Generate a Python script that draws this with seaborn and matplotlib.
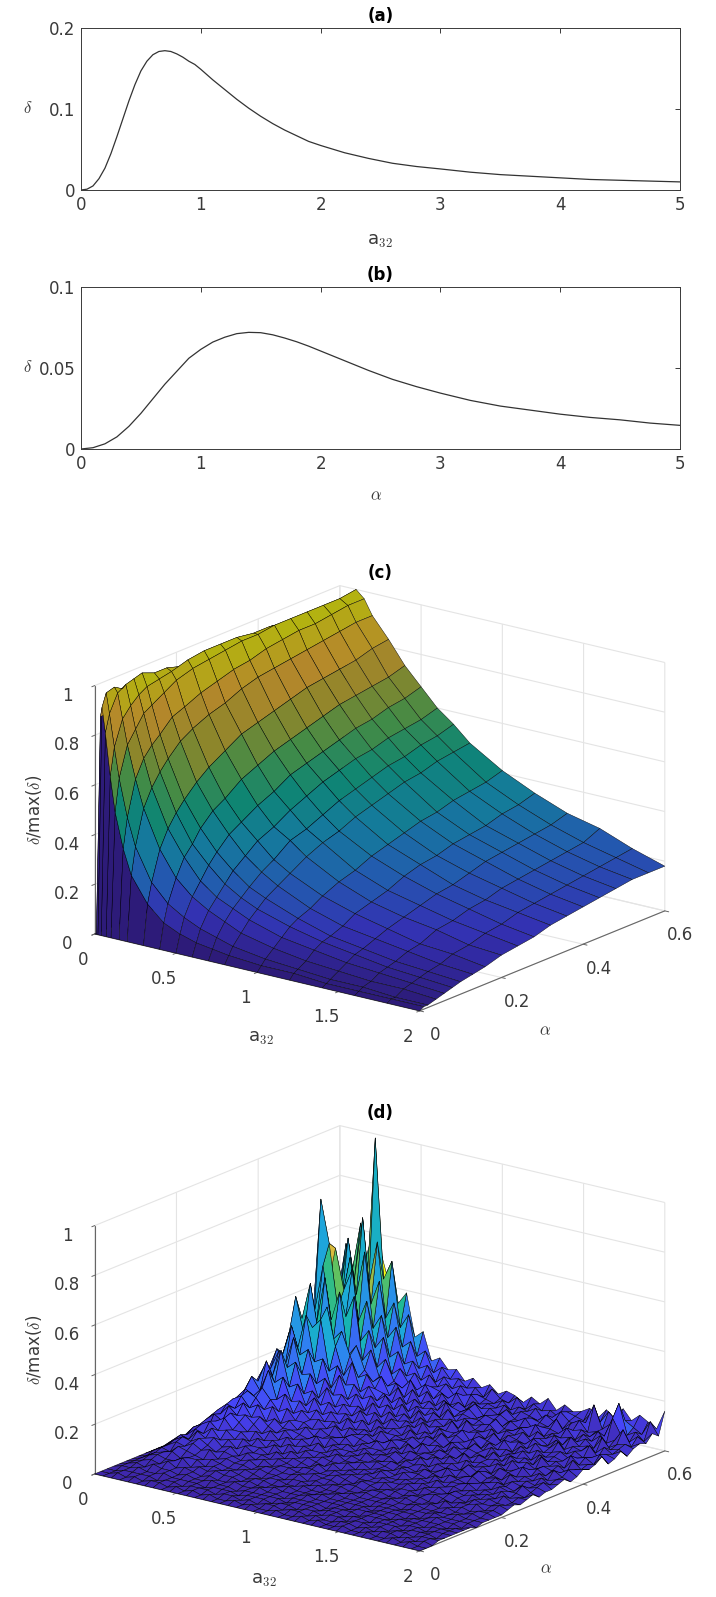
# Imports
import matplotlib
matplotlib.use('Agg')
import matplotlib.pyplot as plt
import seaborn as sns
import numpy as np

sns.set_style('white')
plt.rcParams['font.family'] = ['DejaVu Sans']
plt.rcParams['mathtext.fontset'] = 'cm'


# Data

## (a) delta vs a32
a_x = [0, .05, .1, .15, .2, .25, .3, .35, .4, .45, .5, .55, .6, .65, .7, .75, .8, .85, .9, .95, 1, 1.1, 1.2, 1.3, 1.4, 1.5,
       1.6, 1.7, 1.8, 1.9, 2, 2.2, 2.4, 2.6, 2.8, 3, 3.25, 3.5, 3.75, 4, 4.25, 4.5, 4.75, 5]
a_y = [0, .001, .005, .014, .027, .045, .066, .088, .110, .130, .147, .159, .167, .171, .172, .171, .168, .164, .159, .155, .149, .136, .124, .112, .101, .091,
       .082, .074, .067, .060, .055, .046, .039, .033, .029, .026, .022, .019, .017, .015, .013, .012, .011, .010]

## (b) delta vs alpha
b_x = [0, .1, .2, .3, .4, .5, .6, .7, .8, .9, 1, 1.1, 1.2, 1.3, 1.4, 1.5, 1.6, 1.7, 1.8, 1.9, 2, 2.2, 2.4, 2.6, 2.8, 3,
       3.25, 3.5, 3.75, 4, 4.25, 4.5, 4.75, 5]
b_y = [0, .0008, .0032, .0075, .014, .022, .031, .040, .048, .056, .0615, .066, .069, .0712, .072, .0718, .0705, .0685, .0662, .0635, .0605, .0545, .0485, .043, .0385, .0345,
       .030, .0265, .024, .0215, .0195, .018, .016, .0146]

## (c) smooth surface, rows are alpha, columns are a32
c_a32 = [0, .01, .02, .04, .07, .1, .15, .2, .3, .4, .5, .6, .7, .8, 1, 1.2, 1.4, 1.6, 1.8, 2]
c_alpha = [0, .01, .02, .04, .06, .08, .1, .13, .16, .2, .24, .28, .32, .36, .4, .44, .48, .52, .56, .6]
c_z = [
    [0, 0, 0, 0, 0, 0, 0, 0, 0, 0, 0, 0, 0, 0, 0, 0, 0, 0, 0, 0],
    [0, .87, .91, .81, .64, .50, .36, .26, .16, .10, .07, .05, .04, .03, .02, .02, .01, .01, .01, .01],
    [0, .87, .96, .88, .75, .63, .48, .37, .24, .17, .13, .10, .08, .06, .04, .03, .02, .02, .01, .01],
    [0, .80, .97, .95, .85, .75, .62, .51, .36, .26, .20, .16, .13, .10, .07, .05, .04, .03, .03, .02],
    [0, .74, .95, .97, .89, .80, .69, .58, .43, .33, .25, .20, .17, .14, .10, .08, .06, .05, .04, .03],
    [0, .69, .95, .98, .92, .85, .73, .63, .48, .37, .30, .24, .20, .17, .13, .10, .08, .06, .05, .04],
    [0, .65, .93, .99, .94, .87, .76, .67, .52, .42, .34, .28, .23, .20, .15, .11, .09, .07, .06, .05],
    [0, .56, .88, .97, .95, .90, .81, .72, .57, .47, .39, .32, .27, .23, .17, .13, .11, .09, .07, .06],
    [0, .50, .83, .97, .96, .93, .83, .75, .61, .50, .42, .36, .30, .26, .20, .16, .13, .10, .09, .07],
    [0, .42, .77, .95, .98, .95, .86, .78, .65, .55, .46, .39, .35, .30, .23, .18, .15, .13, .10, .09],
    [0, .36, .72, .94, .99, .96, .88, .80, .69, .58, .49, .43, .37, .33, .25, .20, .17, .14, .12, .10],
    [0, .32, .68, .93, .99, .97, .90, .83, .71, .61, .53, .46, .40, .35, .28, .23, .19, .16, .13, .11],
    [0, .29, .64, .92, .99, .98, .91, .85, .73, .63, .55, .49, .43, .38, .30, .25, .20, .17, .15, .13],
    [0, .25, .59, .89, .98, .98, .93, .86, .75, .65, .57, .51, .45, .40, .32, .26, .22, .19, .16, .14],
    [0, .21, .53, .87, .98, .99, .94, .87, .77, .67, .59, .53, .47, .42, .34, .28, .24, .20, .17, .15],
    [0, .18, .49, .84, .97, .99, .95, .88, .78, .69, .61, .54, .49, .44, .35, .29, .25, .21, .18, .16],
    [0, .16, .44, .79, .96, .99, .95, .89, .79, .70, .62, .56, .50, .45, .37, .30, .26, .22, .19, .17],
    [0, .14, .40, .75, .94, .99, .96, .90, .80, .71, .64, .57, .52, .47, .38, .32, .27, .23, .20, .18],
    [0, .11, .36, .72, .93, .99, .97, .91, .82, .72, .65, .58, .53, .48, .39, .33, .28, .24, .21, .18],
    [0, .10, .33, .70, .93, 1.0, .97, .91, .83, .74, .67, .60, .55, .49, .41, .35, .30, .27, .22, .18],
]

## (d) noisy surface in percent of the maximum, rows are alpha, columns are a32
d_a32_max = 2
d_alpha_max = .6
d_z = [
    [0]*40,
    [0,0,1,0,1,0,1,1,0,1,0,1,0,1,0,0,1,0,1,0,0,1,0,0,1,0,1,0,0,1,0,0,1,0,0,1,0,1,0,0],
    [0,0,1,1,1,1,0,1,1,0,1,1,1,0,1,1,0,1,0,1,1,0,1,1,0,1,0,0,1,1,0,1,0,1,1,0,1,0,1,0],
    [0,1,1,2,1,1,2,1,1,1,1,0,1,1,1,0,1,1,1,0,1,1,0,1,1,0,1,1,0,1,1,0,1,0,1,1,0,1,1,1],
    [0,1,2,1,3,2,2,1,2,1,1,2,1,1,0,1,1,1,1,1,0,1,1,1,0,1,1,0,1,1,0,1,1,1,0,1,1,1,0,1],
    [0,1,2,3,2,4,2,3,2,1,2,1,1,2,1,1,2,1,1,0,1,1,1,1,0,1,1,1,0,1,1,1,1,0,1,1,0,1,1,1],
    [0,1,3,4,3,3,5,2,3,2,3,2,2,1,2,1,1,2,1,1,1,2,1,1,1,1,0,1,1,1,1,0,1,1,1,0,1,1,1,1],
    [0,1,3,4,5,3,4,4,2,3,2,3,2,1,2,2,1,1,2,1,1,1,2,1,1,1,1,1,0,1,1,1,0,1,1,1,1,0,1,1],
    [0,2,4,3,6,5,4,3,4,3,2,2,3,2,1,2,2,1,1,2,1,1,1,2,1,1,1,0,1,1,1,1,1,0,1,2,1,1,0,1],
    [0,2,4,6,5,7,5,6,3,4,3,3,2,3,2,2,1,2,2,1,2,1,1,1,2,1,1,1,1,1,0,1,1,1,2,1,1,1,1,0],
    [0,2,5,7,6,8,6,4,5,4,3,4,2,3,3,2,2,3,1,2,1,2,2,1,1,2,1,1,2,1,1,2,1,1,1,1,2,1,1,1],
    [0,3,6,5,9,7,8,5,6,3,5,3,4,2,3,3,2,2,3,2,2,1,2,2,1,2,2,1,1,2,1,1,2,1,2,1,1,2,1,1],
    [0,3,5,8,7,10,6,7,4,6,4,4,3,4,3,2,3,3,2,2,3,2,1,3,2,1,2,2,1,2,2,1,1,3,1,2,1,2,2,1],
    [0,3,7,9,11,8,9,6,7,5,5,3,5,3,4,3,2,4,2,3,2,3,2,2,2,3,1,2,2,1,2,3,2,1,2,2,3,1,2,1],
    [0,4,7,6,10,12,8,8,5,7,4,6,3,5,3,4,3,2,4,2,3,2,3,2,3,2,2,3,1,3,2,2,3,2,1,3,2,2,3,2],
    [0,4,8,11,9,13,10,7,8,5,6,4,6,3,5,3,4,3,3,4,2,3,2,4,2,2,3,2,3,2,3,1,3,2,3,2,3,2,2,3],
    [0,4,9,10,14,11,12,9,6,8,5,7,4,5,4,4,3,5,3,3,4,2,3,3,2,4,2,3,2,4,2,3,2,3,2,3,2,4,2,2],
    [0,5,10,13,12,15,10,11,8,6,8,5,6,4,6,3,5,3,4,3,3,4,3,2,4,3,3,2,4,2,3,3,4,2,3,2,4,2,3,3],
    [0,5,9,14,16,12,14,8,10,7,7,6,5,7,3,5,4,4,3,5,3,3,4,3,3,2,4,3,2,4,3,2,3,4,2,4,3,3,2,4],
    [0,5,11,12,17,15,11,13,7,9,6,8,5,5,6,4,5,3,5,3,4,4,2,4,3,4,2,3,5,2,3,4,2,3,4,3,2,5,3,2],
    [0,6,12,16,14,18,14,10,12,8,8,6,7,5,5,6,3,5,4,4,3,5,3,3,5,2,4,3,3,4,2,5,3,4,2,4,3,3,4,3],
    [0,6,13,20,15,24,13,16,9,11,8,9,6,8,4,6,5,4,6,3,5,3,5,4,3,5,3,4,2,5,3,4,3,2,5,3,4,3,5,3],
    [0,7,12,17,26,18,21,12,13,9,11,7,8,5,7,5,6,4,4,6,3,6,3,4,4,3,5,3,5,3,4,2,5,4,3,4,3,5,3,4],
    [0,7,15,22,19,30,16,18,10,14,8,10,6,9,5,6,4,7,4,5,5,3,6,3,5,4,3,6,3,4,3,5,3,4,6,3,5,3,4,5],
    [0,8,16,20,28,22,25,13,15,10,12,8,9,6,8,4,7,5,5,4,6,4,4,5,3,6,4,3,5,4,5,3,6,3,4,5,3,6,4,3],
    [0,8,18,27,21,33,19,20,11,16,9,11,7,10,5,8,5,6,4,7,4,6,5,3,6,4,5,4,3,6,3,6,4,5,3,5,4,4,6,4],
    [0,9,17,24,36,25,28,15,18,12,13,9,10,7,9,5,8,5,7,4,6,4,7,4,5,3,6,4,6,3,5,4,5,3,7,4,5,3,5,6],
    [0,9,20,32,26,40,22,24,13,19,10,13,7,11,6,9,6,7,5,8,4,7,4,6,4,6,3,6,4,5,4,6,3,6,4,5,3,7,4,5],
    [0,10,22,45,30,34,38,18,21,14,15,10,12,8,10,6,8,5,8,5,6,5,5,7,3,6,5,4,7,3,6,4,6,4,5,4,7,4,5,6],
    [0,10,24,35,50,30,42,27,16,22,11,14,9,12,7,10,5,9,5,7,5,8,4,5,6,4,7,4,5,6,4,7,4,5,6,4,5,6,4,8],
    [0,11,23,40,33,52,28,32,23,15,17,12,11,8,11,6,9,6,8,6,7,4,8,5,5,7,3,6,5,4,7,5,5,8,4,6,4,5,7,4],
    [0,12,28,36,55,34,46,21,26,17,13,16,9,13,7,10,7,8,5,9,5,7,5,6,7,4,6,5,7,4,6,4,7,4,6,5,8,4,6,5],
    [0,12,30,80,63,38,35,44,19,24,14,11,13,8,12,7,9,6,10,5,7,6,6,4,8,5,5,7,4,7,5,7,4,8,5,6,4,7,5,7],
    [0,13,27,42,60,44,53,25,30,16,20,12,10,14,8,11,6,9,7,6,8,5,7,6,4,7,5,6,8,4,6,5,6,5,7,4,9,5,6,4],
    [0,14,33,50,37,56,31,40,22,27,13,16,11,9,12,7,10,6,8,6,9,5,6,7,5,6,8,4,6,6,5,8,4,7,5,8,4,6,7,6],
    [0,14,30,38,62,40,58,28,34,18,21,12,14,8,10,9,7,10,5,8,6,7,5,8,5,4,7,6,5,9,4,6,7,5,8,4,6,11,5,7],
    [0,15,36,58,44,70,36,46,24,29,15,17,10,13,9,11,7,8,9,6,7,6,8,5,7,6,5,8,6,4,7,9,5,6,5,13,7,5,8,6],
    [0,15,34,46,66,42,60,30,37,20,23,13,15,9,12,8,10,6,8,7,6,8,5,7,6,8,4,6,9,6,5,7,15,6,9,18,6,8,5,9],
    [0,16,38,54,40,100,44,52,26,32,16,19,11,14,10,11,8,9,6,10,7,6,9,5,8,6,7,5,8,7,6,10,7,12,9,10,8,6,12,7],
    [0,16,35,48,60,52,40,34,39,22,25,14,16,12,13,9,11,8,10,7,9,8,6,9,7,10,6,9,7,8,10,7,11,8,13,9,12,10,8,16],
]

## Colours and ticks
parula = ['#3e26a8', '#4743f8', '#2f80f2', '#1caad8', '#14b9a0', '#5cc162', '#c2ba3c', '#fbbc3c', '#f9fb15']
x_ticks_2d = [0, 1, 2, 3, 4, 5]
a32_ticks = [0, .5, 1, 1.5, 2]
a32_labels = ['0', '0.5', '1', '1.5', '2']
alpha_ticks = [0, .2, .4, .6]
alpha_labels = ['0', '0.2', '0.4', '0.6']
z_ticks = [0, .2, .4, .6, .8, 1]
z_labels = ['0', '0.2', '0.4', '0.6', '0.8', '1']

W, H = 716, 1597
FS = 12
DARK = '#3a3a3a'
cmap = sns.blend_palette(parula, as_cmap=True)


def px_rect(left, top, right, bottom):
    return [left / W, 1 - bottom / H, (right - left) / W, (bottom - top) / H]


def label(x, y, s, **kw):
    kw.setdefault('color', DARK)
    kw.setdefault('fontsize', FS)
    fig.text(x / W, 1 - y / H, s, ha='center', va='center', **kw)


def line_panel(rect, x, y, yticks, yticklabels, ymax, title):
    ax = fig.add_axes(rect)
    sns.lineplot(x=x, y=y, color='#333333', linewidth=0.9, ax=ax)
    ax.set_xlim(0, 5)
    ax.set_ylim(0, ymax)
    ax.set_xticks(x_ticks_2d)
    ax.set_yticks(yticks)
    ax.set_yticklabels(yticklabels)
    ax.tick_params(direction='in', top=True, right=True, length=3.5, width=0.7, color=DARK,
                   labelcolor=DARK, labelsize=FS, pad=4)
    for s in ax.spines.values():
        s.set_linewidth(0.7)
        s.set_color(DARK)
    ax.set_title(title, fontsize=FS, fontweight='bold', color='black', pad=5)
    return ax


def surface_panel(rect, X, Y, Z, colors, lw):
    ax = fig.add_axes(rect, projection='3d')
    ax.patch.set_alpha(0)
    ax.set_proj_type('ortho')
    ax.view_init(elev=18.1, azim=-52.7)
    ax.set_box_aspect((408, 404, 261))
    ax.plot_surface(X, Y, Z, facecolors=colors, rstride=1, cstride=1, edgecolor='black',
                    linewidth=lw, shade=False)
    ax.set_xlim(0, 2)
    ax.set_ylim(0, .6)
    ax.set_zlim(0, 1)
    ax.set_xticks(a32_ticks)
    ax.set_xticklabels(a32_labels)
    ax.set_yticks(alpha_ticks)
    ax.set_yticklabels(alpha_labels)
    ax.set_zticks(z_ticks)
    ax.set_zticklabels(z_labels)
    ax.zaxis.set_ticks_position('lower')
    for axis in (ax.xaxis, ax.yaxis, ax.zaxis):
        axis.set_pane_color((1, 1, 1, 0))
        axis.pane.set_edgecolor((1, 1, 1, 0))
        axis.line.set_color('#666666')
        axis.line.set_linewidth(0.8)
        axis._axinfo['grid'].update(color='#e4e4e4', linewidth=0.8)
        axis._axinfo['tick'].update(inward_factor=0.15, outward_factor=0.0, linewidth={True: 0.7, False: 0.7})
    ax.tick_params(labelsize=FS, labelcolor=DARK, color='#666666', pad=3)
    return ax


# Figure
fig = plt.figure(figsize=(W / 100, H / 100), dpi=100)

## Panels (a) and (b)
line_panel(px_rect(81, 28, 680, 190), a_x, a_y, [0, .1, .2], ['0', '0.1', '0.2'], .2, '(a)')
label(380, 241, 'a$_{32}$', fontsize=FS + 1)
label(28, 108, r'$\delta$')
line_panel(px_rect(81, 287, 680, 449), b_x, b_y, [0, .05, .1], ['0', '0.05', '0.1'], .1, '(b)')
label(376, 495, r'$\alpha$')
label(28, 367, r'$\delta$')

## Panel (c)
cx, cz = np.meshgrid(c_a32, c_alpha)
cz = np.array(c_z)
c_colors = cmap(cz)
c_colors[..., :3] *= 0.72
surface_panel(px_rect(65, 500, 678, 1113), cx, np.meshgrid(c_a32, c_alpha)[1], cz, c_colors, 0.3)
label(380, 573, '(c)', fontweight='bold', color='black')
label(261, 1038, 'a$_{32}$', fontsize=FS + 1)
label(545, 1030, r'$\alpha$')
label(34, 810, r'$\delta$/max($\delta$)', rotation=90)

## Panel (d)
dz = np.array(d_z) / 100
da, dal = np.meshgrid(np.linspace(0, d_a32_max, dz.shape[1]), np.linspace(0, d_alpha_max, dz.shape[0]))
surface_panel(px_rect(65, 1040, 678, 1653), da, dal, dz, cmap(dz), 0.35)
label(380, 1113, '(d)', fontweight='bold', color='black')
label(264, 1580, 'a$_{32}$', fontsize=FS + 1)
label(546, 1568, r'$\alpha$')
label(34, 1350, r'$\delta$/max($\delta$)', rotation=90)

plt.savefig('out.png', dpi=100)
